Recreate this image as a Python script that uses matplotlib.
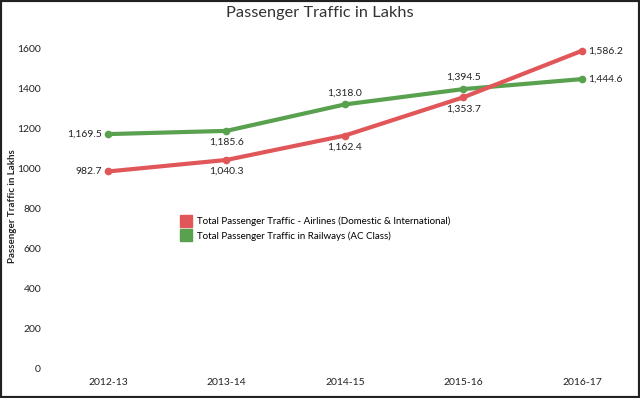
import matplotlib.pyplot as plt
from matplotlib.patches import Rectangle
from matplotlib.lines import Line2D

plt.rcParams['font.family'] = ['Lato', 'DejaVu Sans']

years = ['2012-13', '2013-14', '2014-15', '2015-16', '2016-17']
airlines = [982.7, 1040.3, 1162.4, 1353.7, 1586.2]
railways = [1169.5, 1185.6, 1318.0, 1394.5, 1444.6]

# where each data label sits relative to its point
airline_pos = ['left', 'below', 'below', 'below', 'right']
railway_pos = ['left', 'below', 'above', 'above', 'right']

red = '#e15759'
green = '#59a14f'

fig = plt.figure(figsize=(6.4, 3.98), dpi=100)
ax = fig.add_axes([55 / 640, 23 / 398, 575 / 640, 337 / 398])

x = list(range(len(years)))
ax.plot(x, railways, color=green, lw=3, marker='o', ms=4.5, solid_capstyle='round')
ax.plot(x, airlines, color=red, lw=3, marker='o', ms=4.5, solid_capstyle='round')

offsets = {
    'left': (-6, 0, 'right', 'center'),
    'right': (6, 0, 'left', 'center'),
    'above': (0, 7, 'center', 'bottom'),
    'below': (0, -7, 'center', 'top'),
}


def label_points(values, positions):
    for i, (v, p) in enumerate(zip(values, positions)):
        dx, dy, ha, va = offsets[p]
        ax.annotate(f'{v:,.1f}', (i, v), xytext=(dx, dy), textcoords='offset pixels',
                    ha=ha, va=va, fontsize=7.5, color='#222222')


label_points(airlines, airline_pos)
label_points(railways, railway_pos)

ax.set_xlim(-0.447, 4.405)
ax.set_ylim(-35, 1650)
ax.set_xticks(x)
ax.set_xticklabels(years)
ax.set_yticks(range(0, 1601, 200))
for s in ax.spines.values():
    s.set_visible(False)
ax.tick_params(length=0, labelsize=7.5, colors='#222222')
ax.tick_params(axis='x', pad=2)
ax.tick_params(axis='y', pad=10)

fig.text(13 / 640, 1 - 206 / 398, 'Passenger Traffic in Lakhs', rotation=90,
         ha='center', va='center', fontsize=7, fontweight='bold', color='#222222')

fig.suptitle('Passenger Traffic in Lakhs', y=0.985, fontsize=11.8, color='#333333')

handles = [Line2D([], [], ls='', marker='s', ms=8, color=red),
           Line2D([], [], ls='', marker='s', ms=8, color=green)]
fig.legend(handles, ['Total Passenger Traffic - Airlines (Domestic & International)',
                     'Total Passenger Traffic in Railways (AC Class)'],
           loc='upper left', bbox_to_anchor=(172 / 640, 1 - 213 / 398), frameon=False,
           fontsize=7, handletextpad=0.2, labelspacing=0.5, borderaxespad=0)

fig.patches.append(Rectangle((0, 0), 1, 1, transform=fig.transFigure, fill=False,
                             lw=3, edgecolor='#222222'))

fig.savefig('out.png', dpi=100)
